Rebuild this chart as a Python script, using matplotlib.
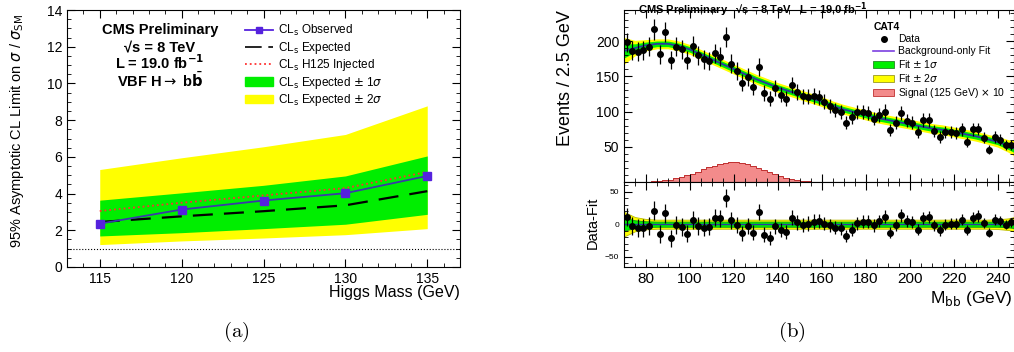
import matplotlib
matplotlib.use('Agg')
import matplotlib.pyplot as plt
from matplotlib.lines import Line2D
from matplotlib.patches import Patch
import numpy as np

plt.rcParams['font.family'] = ['Liberation Sans', 'DejaVu Sans']

# ---------------- (a) limit plot data ----------------
masses = [115, 120, 125, 130, 135]
obs_limit = [2.36, 3.13, 3.62, 4.02, 4.96]
exp_limit = [2.45, 2.76, 3.04, 3.36, 4.13]
inj_limit = [3.05, 3.50, 3.90, 4.30, 5.18]
band1_lo = [1.69, 1.87, 2.09, 2.33, 2.87]
band1_hi = [3.64, 4.04, 4.45, 4.96, 6.05]
band2_lo = [1.22, 1.42, 1.58, 1.76, 2.09]
band2_hi = [5.31, 5.95, 6.55, 7.22, 8.78]

# ---------------- (b) mbb fit data ----------------
bin_width = 2.5
bin_lo = 70.0
data_counts = [198, 186, 185, 187, 192, 216.6, 181, 213, 173, 192,
               188, 173, 193, 180, 174, 172, 182.5, 178, 206, 168,
               157, 141, 149, 135, 163.5, 126, 118, 133, 124, 118,
               137.5, 128, 121.5, 121, 122, 120, 114, 108, 102, 99,
               84, 91.6, 99.7, 99.7, 98, 90, 95, 100, 74, 84,
               98, 87, 84, 71, 88, 88, 73, 64, 71, 71,
               70, 74.6, 56.6, 74.6, 75.5, 63, 46, 64, 60, 52, 53]
residuals = [11, -3, -6, -6, -2.5, 21, -15, 17, -22, -2,
             -4, -15, 6.5, -3, -5.5, -4, 10, 9, 40.5, 6,
             -1.5, -14, -2.5, -13, 18.5, -16, -21, -3, -9, -12,
             10, 3, -1, 1, 4, 4.5, 1, -2, -5.5, -6,
             -18.5, -8.4, 1.7, 3.7, 4, -2, 5, 11.5, -13, -1.5,
             14, 4.5, 3, -8.5, 10, 11.5, -2, -9.5, -1, 0.5,
             1, 7, -9.5, 10, 12.5, 2, -13, 7, 5, -0.5, 3]
signal_x10 = [0, 0, 0, 0.2, 0.4, 0.8, 1.4, 2.3, 3.5, 5.0,
              7.0, 9.3, 12.0, 14.8, 17.8, 20.7, 23.3, 25.5, 27.1, 28.0,
              28.0, 27.2, 25.5, 23.2, 20.4, 17.3, 14.2, 11.2, 8.5, 6.2,
              4.3, 2.8, 1.7, 1.0, 0.5, 0.2]

fit_x = [70, 75, 80, 85, 90, 95, 100, 105, 110, 115, 120, 125, 130, 135,
         140, 145, 150, 155, 160, 165, 170, 175, 180, 185, 190, 195, 200,
         205, 210, 215, 220, 225, 230, 235, 240, 245, 247.5]
fit_y = [186, 190, 194, 196, 196, 193, 188, 181, 174, 167, 160, 153, 146, 140,
         134, 129, 124, 119, 114, 108, 103, 99, 95, 91, 88, 85, 82,
         79, 76, 74, 71, 68, 65, 61, 57, 51, 48]
fit_err1 = [10, 6, 4.5, 4, 4, 4, 4, 4, 4, 4, 4, 4, 4, 4,
            4, 4, 4, 4, 4, 4, 4, 4, 4, 4, 4, 4, 4,
            4, 4, 4, 4, 4, 4, 4, 4, 5, 6]
fit_err2 = [19, 11, 8, 7, 7, 7, 7, 7, 7, 7, 7, 7, 7, 7,
            7, 7, 7, 7, 7, 7, 7, 7, 7, 7, 7, 7, 7,
            7, 7, 7, 7, 7, 7, 7, 7.5, 9, 11]

W, H = 1014, 352
fig = plt.figure(figsize=(W / 100, H / 100), dpi=100)

def box(x0, y0, x1, y1):
    return [x0 / W, 1 - y1 / H, (x1 - x0) / W, (y1 - y0) / H]

def root_ticks(ax):
    ax.tick_params(which='both', direction='in', top=True, right=True)
    ax.tick_params(which='major', length=6, width=0.8)
    ax.tick_params(which='minor', length=3, width=0.6)

green = '#00ee00'
yellow = '#ffff00'

# ======== panel (a) ========
ax1 = fig.add_axes(box(67, 10, 460, 267))
ax1.fill_between(masses, band2_lo, band2_hi, color=yellow, lw=0)
ax1.fill_between(masses, band1_lo, band1_hi, color=green, lw=0)
ax1.axhline(1.0, color='black', ls=':', lw=0.8)
ax1.plot(masses, inj_limit, color='#ff3030', ls=':', lw=1.3)
ax1.plot(masses, exp_limit, color='black', lw=1.6, dashes=(9, 5))
ax1.plot(masses, obs_limit, color='#3a3aa8', lw=1.3, marker='s', ms=5.5,
         mfc='#5522dd', mec='#5522dd')
ax1.set_xlim(113, 137)
ax1.set_ylim(0, 14)
ax1.set_xticks(masses)
ax1.set_xticks(np.arange(113, 138, 1), minor=True)
ax1.set_yticks(np.arange(0, 15, 2))
ax1.set_yticks(np.arange(0, 14.1, 0.5), minor=True)
ax1.tick_params(labelsize=10)
root_ticks(ax1)

handles = [Line2D([], [], color='#5522dd', lw=1.3, marker='s', ms=5),
           Line2D([], [], color='black', lw=1.2, dashes=(10, 4, 3, 4)),
           Line2D([], [], color='#ff3030', lw=1.3, ls=':'),
           Patch(color=green), Patch(color=yellow)]
labels = [r'CL$_{\rm s}$ Observed', r'CL$_{\rm s}$ Expected',
          r'CL$_{\rm s}$ H125 Injected', r'CL$_{\rm s}$ Expected $\pm$ 1$\sigma$',
          r'CL$_{\rm s}$ Expected $\pm$ 2$\sigma$']
ax1.legend(handles, labels, loc='upper left', bbox_to_anchor=((236 - 67) / 393, 0.985),
           frameon=False, fontsize=8.5, handlelength=2.3, handletextpad=0.5,
           labelspacing=0.12, borderaxespad=0.4)

cx = 160 / W
fig.text(cx, 1 - 30 / H, 'CMS Preliminary', ha='center', va='center',
         fontsize=10.5, weight='bold')
fig.text(cx, 1 - 47 / H, '\u221as = 8 TeV', ha='center', va='center',
         fontsize=10.5, weight='bold')
fig.text(cx, 1 - 63 / H, r'L = 19.0 fb$^{\mathbf{-1}}$', ha='center', va='center',
         fontsize=10.5, weight='bold')
fig.text(cx, 1 - 80 / H, r'VBF H$\rightarrow$ b$\bar{\mathbf{b}}$', ha='center',
         va='center', fontsize=10.5, weight='bold')
fig.text(17 / W, 1 - 131 / H, r'95% Asymptotic CL Limit on $\sigma$ / $\sigma_{\rm SM}$',
         rotation=90, ha='center', va='center', fontsize=10.5)
fig.text(460 / W, 1 - 293 / H, 'Higgs Mass (GeV)', ha='right', va='center', fontsize=11.5)

# ======== panel (b) ========
centers = bin_lo + bin_width * (np.arange(len(data_counts)) + 0.5)
counts = np.array(data_counts)
errs = np.sqrt(counts)
fx = np.array(fit_x)
fy = np.array(fit_y)
e1 = np.array(fit_err1)
e2 = np.array(fit_err2)

ax2 = fig.add_axes(box(624, 10, 1014, 182))
ax2.fill_between(fx, fy - e2, fy + e2, color=yellow, lw=0)
ax2.fill_between(fx, fy - e1, fy + e1, color=green, lw=0)
ax2.plot(fx, fy, color='#2a3aa0', lw=1.3)
sig_edges = bin_lo + bin_width * np.arange(len(signal_x10) + 1)
ax2.stairs(signal_x10, sig_edges, fill=True, color='#f38b8b')
ax2.stairs(signal_x10, sig_edges, color='#c03030', lw=0.7)
ax2.errorbar(centers, counts, yerr=errs, fmt='o', color='black', ms=4,
             elinewidth=0.9, capsize=0)
ax2.set_xlim(70, 247.5)
ax2.set_ylim(0, 244)
ax2.set_yticks([50, 100, 150, 200])
ax2.set_yticks(np.arange(10, 244, 10), minor=True)
ax2.set_xticks(np.arange(80, 241, 20))
ax2.set_xticks(np.arange(70, 248, 5), minor=True)
ax2.tick_params(labelsize=10, labelbottom=False)
root_ticks(ax2)

handles2 = [Line2D([], [], color='black', marker='o', ms=4, ls='none'),
            Line2D([], [], color='#7b3fe0', lw=1.2),
            Patch(facecolor=green, edgecolor='#228822', lw=0.6),
            Patch(facecolor=yellow, edgecolor='#999922', lw=0.6),
            Patch(facecolor='#f38b8b', edgecolor='#c03030', lw=0.6)]
labels2 = ['Data', 'Background-only Fit', r'Fit $\pm$ 1$\sigma$',
           r'Fit $\pm$ 2$\sigma$', r'Signal (125 GeV) $\times$ 10']
ax2.legend(handles2, labels2, loc='upper left',
           bbox_to_anchor=((866 - 624) / 390, 0.97), frameon=False,
           fontsize=7.5, title='CAT4', title_fontproperties={'weight': 'bold', 'size': 7.5},
           alignment='left', handlelength=2.0, handletextpad=0.4,
           labelspacing=0.18, borderpad=0.2)

fig.text(638 / W, 1 - 0.5 / H, 'CMS Preliminary   \u221as = 8 TeV   L = 19.0 fb$^{\\mathbf{-1}}$',
         ha='left', va='top', fontsize=8, weight='bold')
fig.text(565 / W, 1 - 78 / H, 'Events / 2.5 GeV', rotation=90, ha='center',
         va='center', fontsize=13)

ax3 = fig.add_axes(box(624, 182, 1014, 267))
ax3.fill_between(fx, -e2, e2, color=yellow, lw=0.6, edgecolor='#bbbb00')
ax3.fill_between(fx, -e1, e1, color=green, lw=0.6, edgecolor='#119911')
ax3.axhline(0, color='#2a3aa0', lw=1.0)
ax3.errorbar(centers, residuals, yerr=errs, fmt='o', color='black', ms=4,
             elinewidth=0.9, capsize=0)
ax3.set_xlim(70, 247.5)
ax3.set_ylim(-66, 65)
ax3.set_yticks([-50, 0, 50])
ax3.set_yticks(np.arange(-60, 61, 10), minor=True)
ax3.set_xticks(np.arange(80, 241, 20))
ax3.set_xticks(np.arange(70, 248, 5), minor=True)
ax3.tick_params(axis='y', labelsize=6)
ax3.tick_params(axis='x', labelsize=11)
root_ticks(ax3)

fig.text(593 / W, 1 - 223 / H, 'Data-Fit', rotation=90, ha='center', va='center',
         fontsize=10.5)
fig.text(1013 / W, 1 - 299 / H, r'M$_{\rm bb}$ (GeV)', ha='right', va='center',
         fontsize=12.5)

fig.text(236 / W, 1 - 332 / H, r'$\mathrm{(a)}$', ha='center', va='center',
         fontsize=15, math_fontfamily='cm')
fig.text(792 / W, 1 - 332 / H, r'$\mathrm{(b)}$', ha='center', va='center',
         fontsize=15, math_fontfamily='cm')

fig.savefig('out.png', dpi=100)
